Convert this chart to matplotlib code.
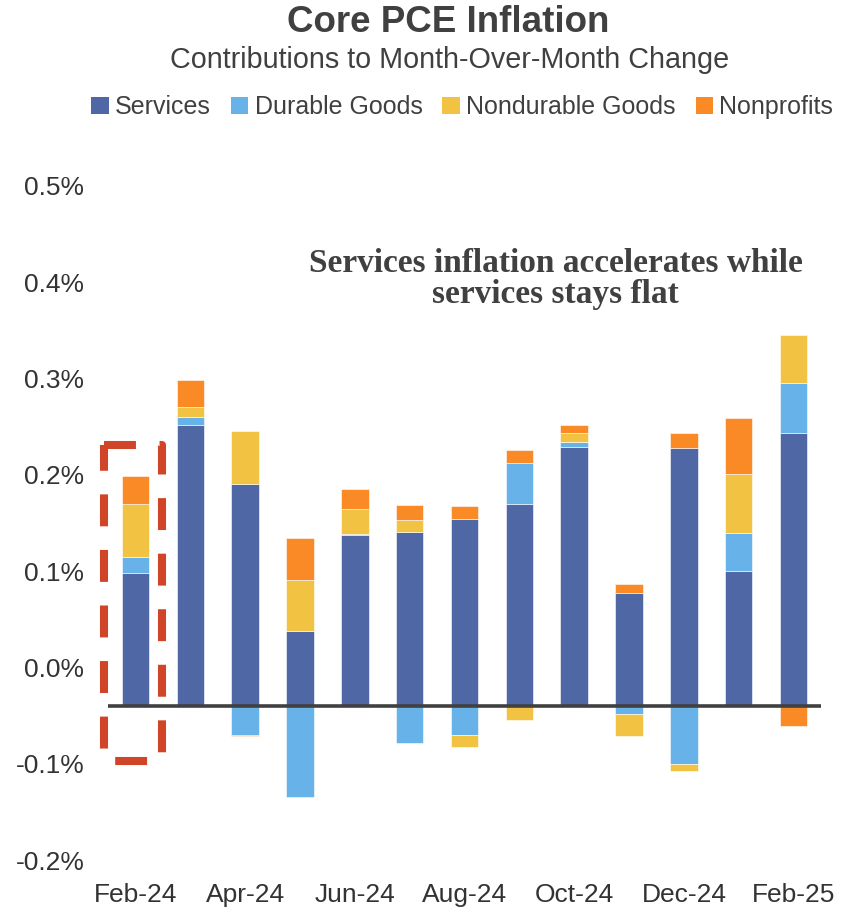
import numpy as np
import matplotlib.pyplot as plt
from matplotlib.patches import Patch

months = ['Feb-24', 'Mar-24', 'Apr-24', 'May-24', 'Jun-24', 'Jul-24', 'Aug-24',
          'Sep-24', 'Oct-24', 'Nov-24', 'Dec-24', 'Jan-25', 'Feb-25']
# contributions in percentage points
services   = [0.138, 0.292, 0.231, 0.078, 0.178, 0.181, 0.194, 0.210, 0.269, 0.117, 0.268, 0.140, 0.284]
durable    = [0.017, 0.008, -0.030, -0.095, 0.001, -0.038, -0.030, 0.042, 0.005, -0.008, -0.060, 0.040, 0.051]
nondurable = [0.055, 0.011, 0.055, 0.053, 0.026, 0.012, -0.013, -0.015, 0.010, -0.023, -0.008, 0.061, 0.050]
nonprofits = [0.029, 0.028, -0.001, 0.043, 0.020, 0.016, 0.014, 0.014, 0.008, 0.010, 0.015, 0.058, -0.021]

tick_vals = [-0.2, -0.1, 0.0, 0.1, 0.2, 0.3, 0.4, 0.5]
label_shift = 0.04   # axis labels sit a bit above the zero line

series = [('Services', services, '#4F67A5'),
          ('Durable Goods', durable, '#67B2E8'),
          ('Nondurable Goods', nondurable, '#F2C243'),
          ('Nonprofits', nonprofits, '#F98A25')]

dark = '#404040'
fig = plt.figure(figsize=(8.56, 9.09), dpi=100)
ax = fig.add_axes([108/856, 1 - 875/909, (821 - 108)/856, 700/909])

x = np.arange(len(months))
pos_base = np.zeros(len(months))
neg_base = np.zeros(len(months))
for name, vals, col in series:
    v = np.array(vals)
    base = np.where(v >= 0, pos_base, neg_base)
    ax.bar(x, v, 0.5, bottom=base, color=col, edgecolor='white', linewidth=0.4, zorder=2)
    pos_base += np.where(v >= 0, v, 0)
    neg_base += np.where(v < 0, v, 0)

ax.axhline(0, color=dark, lw=2.6, zorder=3)

# dashed box round the first bar
bx = [-0.566, 0.49, 0.49, -0.566, -0.566]
by = [0.271, 0.271, -0.057, -0.057, 0.271]
lw = 5.8
ax.plot(bx, by, color='#D04527', lw=lw, dashes=(23/lw, 17/lw),
        dash_capstyle='butt', clip_on=False, zorder=4)

ax.set_xlim(-0.5, 12.5)
ax.set_ylim(-0.1755, 0.5514)
ax.set_xticks(x[::2])
ax.set_xticklabels(months[::2], fontsize=19, color='#333333', family='Liberation Sans')
ax.set_yticks([t + label_shift for t in tick_vals])
ax.set_yticklabels(['%.1f%%' % t for t in tick_vals], fontsize=19, color='#333333',
                   family='Liberation Sans')
ax.tick_params(length=0)
ax.tick_params(axis='y', pad=17)
ax.tick_params(axis='x', pad=6)
for s in ax.spines.values():
    s.set_visible(False)

fig.text(0.523, 1 - 23/909, 'Core PCE Inflation', ha='center', va='center',
         fontsize=26.5, fontweight='bold', color=dark, family='Liberation Sans')
fig.text(0.525, 1 - 60/909, 'Contributions to Month-Over-Month Change', ha='center',
         va='center', fontsize=20.7, color=dark, family='Liberation Sans')

handles = [Patch(facecolor=c, label=n) for n, _, c in series]
fig.legend(handles=handles, loc='center', bbox_to_anchor=(0.540, 1 - 107/909), ncol=4,
           frameon=False, handlelength=0.7, handleheight=0.7,
           handletextpad=0.25, columnspacing=0.8, prop={'family': 'Liberation Sans', 'size': 18},
           labelcolor=dark)

fig.text(0.649, 1 - 279/909, 'Services inflation accelerates while\nservices stays flat',
         ha='center', va='center', fontsize=24, fontweight='bold', color=dark,
         family='Liberation Serif', linespacing=1.0)

plt.savefig('out.png', dpi=100)
